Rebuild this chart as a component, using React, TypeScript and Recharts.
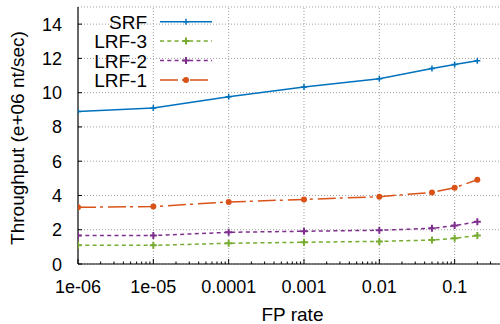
import React from "react";
import {
  LineChart,
  Line,
  XAxis,
  YAxis,
  CartesianGrid,
  ReferenceLine,
  Label,
} from "recharts";

const fpRates = [1e-6, 1e-5, 1e-4, 1e-3, 1e-2, 0.05, 0.1, 0.2];
const srf = [8.9, 9.1, 9.76, 10.33, 10.81, 11.41, 11.65, 11.86];
const lrf3 = [1.09, 1.09, 1.21, 1.27, 1.32, 1.4, 1.5, 1.66];
const lrf2 = [1.66, 1.66, 1.85, 1.91, 1.97, 2.08, 2.24, 2.47];
const lrf1 = [3.31, 3.35, 3.62, 3.77, 3.93, 4.18, 4.45, 4.92];

const xMajorTicks = [1e-6, 1e-5, 1e-4, 1e-3, 1e-2, 0.1];
const xMajorLabels = ["1e-06", "1e-05", "0.0001", "0.001", "0.01", "0.1"];
const xMinorMultipliers = [2, 3, 4, 5, 6, 7, 8, 9];
const yTicks = [0, 2, 4, 6, 8, 10, 12, 14];

const X_MAX = 0.4;
const FONT = "'Liberation Sans', Arial, Helvetica, sans-serif";

const COLORS = {
  srf: "#0072bd",
  lrf3: "#77ac30",
  lrf2: "#7e2f8e",
  lrf1: "#d95319",
};

const data = fpRates.map((x, i) => ({
  x,
  srf: srf[i],
  lrf3: lrf3[i],
  lrf2: lrf2[i],
  lrf1: lrf1[i],
}));

const minorTicks: number[] = [];
xMajorTicks.forEach((d) => {
  xMinorMultipliers.forEach((m) => {
    const v = d * m;
    if (v < X_MAX) minorTicks.push(v);
  });
});
const allXTicks = [...xMajorTicks, ...minorTicks].sort((a, b) => a - b);

const majorIndex = (v: number) =>
  xMajorTicks.findIndex((t) => Math.abs(t - v) / t < 1e-6);

const XTick = (props: any) => {
  const { x, y, payload } = props;
  const idx = majorIndex(payload.value);
  const major = idx >= 0;
  return (
    <g>
      <line
        x1={x}
        x2={x}
        y1={y}
        y2={y - (major ? 5 : 2.5)}
        stroke="#000"
        strokeWidth={1}
      />
      {major && (
        <text
          x={x}
          y={y + 29}
          textAnchor="middle"
          fontFamily={FONT}
          fontSize={18}
          fill="#000"
        >
          {xMajorLabels[idx]}
        </text>
      )}
    </g>
  );
};

const YTick = (props: any) => {
  const { x, y, payload } = props;
  return (
    <g>
      <line x1={x} x2={x + 4} y1={y} y2={y} stroke="#000" strokeWidth={1} />
      <text
        x={x - 16}
        y={y + 6.5}
        textAnchor="end"
        fontFamily={FONT}
        fontSize={18}
        fill="#000"
      >
        {payload.value}
      </text>
    </g>
  );
};

const plusDot = (color: string, arm: number, sw: number) => (props: any) => {
  const { cx, cy, index } = props;
  if (cx == null || cy == null) return <g key={index} />;
  return (
    <path
      key={index}
      d={`M${cx - arm},${cy}H${cx + arm}M${cx},${cy - arm}V${cy + arm}`}
      stroke={color}
      strokeWidth={sw}
      fill="none"
    />
  );
};

const circleDot = (color: string, r: number) => (props: any) => {
  const { cx, cy, index } = props;
  if (cx == null || cy == null) return <g key={index} />;
  return <circle key={index} cx={cx} cy={cy} r={r} fill={color} stroke="none" />;
};

const series = [
  { key: "srf", name: "SRF", color: COLORS.srf, dash: undefined as string | undefined, marker: "plus-thin" },
  { key: "lrf3", name: "LRF-3", color: COLORS.lrf3, dash: "4 3.3", marker: "plus" },
  { key: "lrf2", name: "LRF-2", color: COLORS.lrf2, dash: "4 3.3", marker: "plus" },
  { key: "lrf1", name: "LRF-1", color: COLORS.lrf1, dash: "18 4 3 5", marker: "circle" },
];

const markerFor = (s: (typeof series)[number]) =>
  s.marker === "circle"
    ? circleDot(s.color, 3)
    : s.marker === "plus"
    ? plusDot(s.color, 3.5, 2)
    : plusDot(s.color, 3, 1.5);

const LegendBox = () => (
  <svg
    width={230}
    height={95}
    style={{ position: "absolute", left: 0, top: 0, display: "block" }}
  >
    {series.map((s, i) => {
      const cy = 21.7 + i * 19.4;
      const mk = markerFor(s);
      return (
        <g key={s.key}>
          <text
            x={147}
            y={cy + 7}
            textAnchor="end"
            fontFamily={FONT}
            fontSize={19}
            fill="#000"
          >
            {s.name}
          </text>
          <line
            x1={160}
            x2={212}
            y1={cy}
            y2={cy}
            stroke={s.color}
            strokeWidth={1.5}
            strokeDasharray={s.dash}
          />
          {mk({ cx: 186, cy, index: 0 })}
        </g>
      );
    })}
  </svg>
);

const YLabel = () => {
  const cx = 24;
  const cy = 138;
  return (
    <text
      x={cx}
      y={cy}
      transform={`rotate(-90, ${cx}, ${cy})`}
      textAnchor="middle"
      fontFamily={FONT}
      fontSize={19}
      fill="#000"
    >
      Throughput (e+06 nt/sec)
    </text>
  );
};

const XLabel = () => (
  <text
    x={292.5}
    y={321}
    textAnchor="middle"
    fontFamily={FONT}
    fontSize={19}
    fill="#000"
  >
    FP rate
  </text>
);

export default function App() {
  return (
    <div
      style={{
        position: "absolute",
        left: 0,
        top: 0,
        width: 500,
        height: 324,
        background: "#fff",
      }}
    >
      <LineChart
        width={500}
        height={324}
        data={data}
        margin={{ top: 7, right: 0, bottom: 0, left: 0 }}
      >
        <CartesianGrid
          vertical={false}
          stroke="#a0a0a0"
          strokeDasharray="1 2"
        />
        {xMajorTicks.slice(1).map((v) => (
          <ReferenceLine
            key={v}
            x={v}
            stroke="#a0a0a0"
            strokeDasharray="1 2"
            ifOverflow="visible"
          />
        ))}
        <XAxis
          dataKey="x"
          type="number"
          scale="log"
          domain={[1e-6, X_MAX]}
          allowDataOverflow
          ticks={allXTicks}
          interval={0}
          tick={<XTick />}
          tickLine={false}
          tickSize={0}
          tickMargin={0}
          height={60}
          axisLine={{ stroke: "#000", strokeWidth: 1.2 }}
        >
          <Label content={<XLabel />} />
        </XAxis>
        <YAxis
          type="number"
          domain={[0, 15]}
          ticks={yTicks}
          interval={0}
          tick={<YTick />}
          tickLine={false}
          tickSize={0}
          tickMargin={0}
          width={78}
          axisLine={{ stroke: "#000", strokeWidth: 1.2 }}
        >
          <Label content={<YLabel />} />
        </YAxis>
        {series.map((s) => (
          <Line
            key={s.key}
            dataKey={s.key}
            name={s.name}
            stroke={s.color}
            strokeWidth={1.5}
            strokeDasharray={s.dash}
            dot={markerFor(s)}
            activeDot={false}
            isAnimationActive={false}
          />
        ))}
      </LineChart>
      <LegendBox />
    </div>
  );
}
